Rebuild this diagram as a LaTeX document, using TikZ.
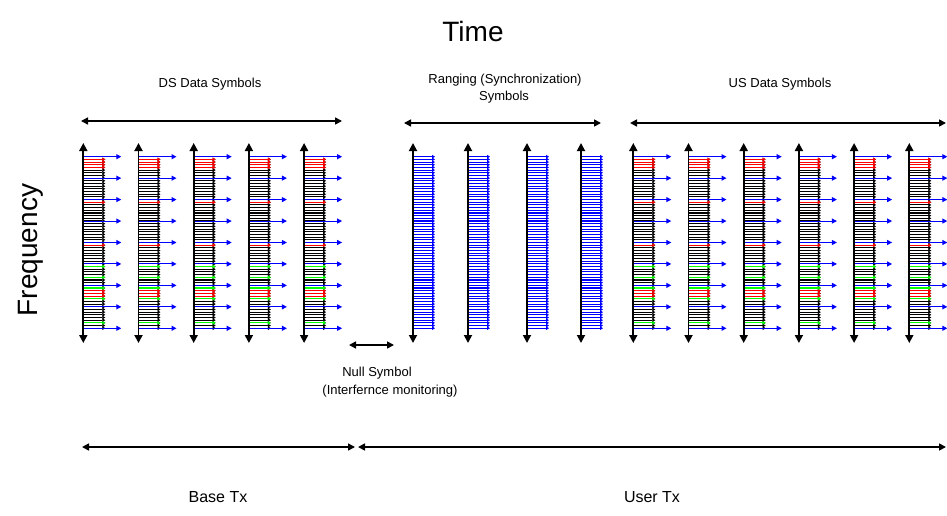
\documentclass[tikz,border=0pt]{standalone}
\usepackage{fontspec}
\setmainfont{Liberation Sans}
\usetikzlibrary{arrows.meta}

\tikzset{
  span/.style={{Triangle[length=7pt,width=7pt]}-{Triangle[length=7pt,width=7pt]}, line width=1.6pt},
  freqaxis/.style={{Triangle[length=8pt,width=8pt]}-{Triangle[length=8pt,width=8pt]}, line width=1.8pt},
  pilot/.style={-{Triangle[length=5pt,width=5pt]}, blue, line width=1pt},
  sub/.style={-{Triangle[length=3pt,width=3.5pt]}, line width=1.1pt},
  lbl/.style={font=\fontsize{13}{15}\selectfont, inner sep=0pt},
  big/.style={font=\fontsize{28}{32}\selectfont, inner sep=0pt},
  txlbl/.style={font=\fontsize{16}{18}\selectfont, inner sep=0pt},
}

% one data symbol: pilots, data subcarriers, frequency axis
\newcommand{\datasym}[2]{%
  \coordinate (#1t) at (#2,143);
  \coordinate (#1b) at (#2,343);
  \foreach \i in {1,...,64} \draw[sub, black] (#2,156.7+\i*2.68) -- ++(22,0);
  \foreach \i in {1,...,4,17,...,20,33,...,36,50,51,52} \draw[sub, red] (#2,156.7+\i*2.68) -- ++(22,0);
  \foreach \i in {41,45,49,53,62} \draw[sub, green] (#2,156.7+\i*2.68) -- ++(22,0);
  \foreach \k in {0,...,8} \draw[pilot] (#2,156.7+\k*21.45) -- ++(38,0);
  \draw[freqaxis] (#1b) -- (#1t);
}

% one ranging symbol: every subcarrier is blue
\newcommand{\rangsym}[2]{%
  \coordinate (#1t) at (#2,143);
  \coordinate (#1b) at (#2,343);
  \foreach \i in {0,...,64} \draw[sub, blue] (#2,156.7+\i*2.68) -- ++(22,0);
  \draw[freqaxis] (#1b) -- (#1t);
}

\begin{document}
\begin{tikzpicture}[x=1pt, y=-1pt]
    \useasboundingbox (0,0) rectangle (947,516);

    \node[big] (time) at (473,31) {Time};
    \node[big, rotate=90] (freq) at (31,250) {Frequency};

    \node[lbl] (dslbl) at (210,84) {DS Data Symbols};
    \node[lbl] (rnglbl) at (505,80) {Ranging (Synchronization)};
    \node[lbl] (rnglbl2) at (504,97) {Symbols};
    \node[lbl] (uslbl) at (780,84) {US Data Symbols};
    \node[lbl] (nulllbl) at (377,373) {Null Symbol};
    \node[lbl] (nulllbl2) at (390,391) {(Interfernce monitoring)};
    \node[txlbl] (baselbl) at (218,497) {Base Tx};
    \node[txlbl] (userlbl) at (652,497) {User Tx};

    % symbols
    \foreach \n/\x in {1/83.3, 2/138.5, 3/193.7, 4/248.9, 5/304.1}
        \datasym{ds\n}{\x};
    \foreach \n/\x in {1/413, 2/468, 3/527, 4/581}
        \rangsym{rg\n}{\x};
    \foreach \n/\x in {1/633.3, 2/688.5, 3/743.7, 4/798.9, 5/854.1, 6/909.3}
        \datasym{us\n}{\x};

    % spans
    \coordinate (dsL) at (81,121);
    \coordinate (dsR) at (342,121);
    \coordinate (rgL) at (404,123);
    \coordinate (rgR) at (601,123);
    \coordinate (usL) at (630,123);
    \coordinate (usR) at (946,123);
    \coordinate (nullL) at (349,345);
    \coordinate (nullR) at (394,345);
    \coordinate (baseL) at (82,447);
    \coordinate (baseR) at (355,447);
    \coordinate (userL) at (358,447);
    \coordinate (userR) at (946,447);

    \draw[span] (dsL) -- (dsR);
    \draw[span] (rgL) -- (rgR);
    \draw[span] (usL) -- (usR);
    \draw[span] (nullL) -- (nullR);
    \draw[span] (baseL) -- (baseR);
    \draw[span] (userL) -- (userR);

\end{tikzpicture}
\end{document}
